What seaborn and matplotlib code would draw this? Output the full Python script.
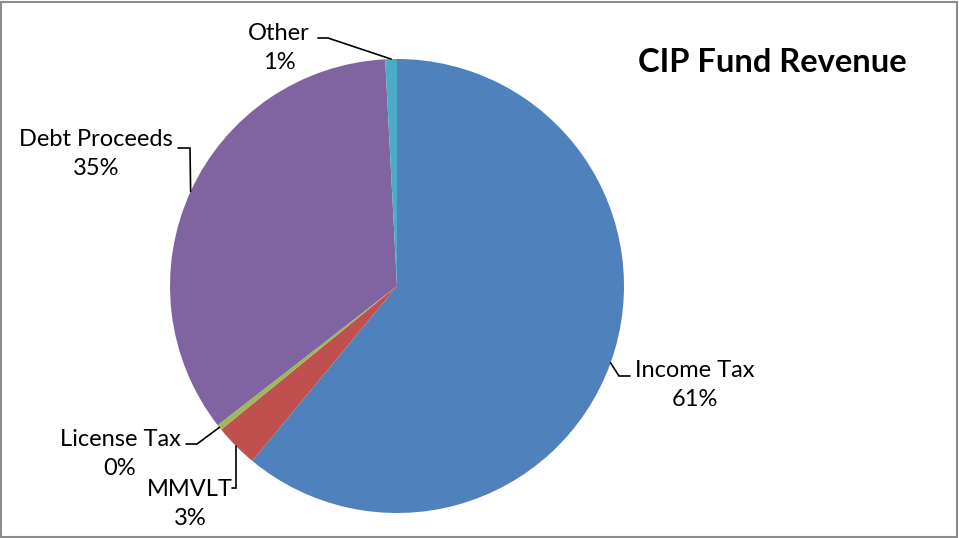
import numpy as np
import matplotlib
matplotlib.use("Agg")
import matplotlib.pyplot as plt
import seaborn as sns
from matplotlib.patches import Rectangle

# Revenue shares (percent of total), clockwise from 12 o'clock
categories = ["Income Tax", "MMVLT", "License Tax", "Debt Proceeds", "Other"]
shares = [61.0, 3.1, 0.4, 34.67, 0.83]
pct_labels = ["61%", "3%", "0%", "35%", "1%"]
colors = ["#4F81BD", "#C0504D", "#9BBB59", "#8064A2", "#4BACC6"]

sns.set_theme(style="white")
plt.rcParams["font.family"] = ["Lato", "DejaVu Sans"]

W, H = 959, 538
fig = plt.figure(figsize=(W / 100, H / 100), dpi=100)
fig.patch.set_facecolor("white")

# pie placement in pixels (center and radius)
cx, cy, r = 397, 286, 227
ax = fig.add_axes([(cx - r) / W, (H - cy - r) / H, 2 * r / W, 2 * r / H])

wedges, _ = ax.pie(shares, colors=colors, startangle=90, counterclock=False,
                   radius=1.0, wedgeprops=dict(linewidth=0))
ax.set_xlim(-1, 1)
ax.set_ylim(-1, 1)
ax.set_aspect("equal")
ax.axis("off")


def px(x, y):
    """pixel position -> data coordinates of the pie axes"""
    return (x - cx) / r, (cy - y) / r


# label layout: elbow point, end of leader, text centre (pixels)
layout = {
    "Income Tax": ((619, 376), (630, 376), (695, 385)),
    "MMVLT": ((236, 488), (232, 488), (190, 504)),
    "License Tax": ((197, 444), (186, 444), (120, 454)),
    "Debt Proceeds": ((190, 148), (178, 148), (96, 154)),
    "Other": ((328, 38), (318, 38), (279, 48)),
}

for w, name, pct in zip(wedges, categories, pct_labels):
    mid = np.deg2rad((w.theta1 + w.theta2) / 2)
    sx, sy = np.cos(mid), np.sin(mid)
    elbow, end, tc = layout[name]
    ex, ey = px(*elbow)
    nx, ny = px(*end)
    ax.plot([sx, ex, nx], [sy, ey, ny], color="black", lw=1.2,
            clip_on=False, solid_joinstyle="miter")
    tx, ty = px(*tc)
    ax.text(tx, ty, f"{name}\n{pct}", ha="center", va="center",
            multialignment="center", fontsize=17, linespacing=1.52,
            color="black", clip_on=False)

fig.text(772 / W, 1 - 62 / H, "CIP Fund Revenue", ha="center", va="center",
         fontsize=23.5, fontweight="bold", color="black")

# chart frame
fig.patches.append(Rectangle((0.001, 0.002), 0.997, 0.995, transform=fig.transFigure,
                             fill=False, edgecolor="#8C8C8C", linewidth=1.5))

fig.savefig("out.png", dpi=100, facecolor="white")
